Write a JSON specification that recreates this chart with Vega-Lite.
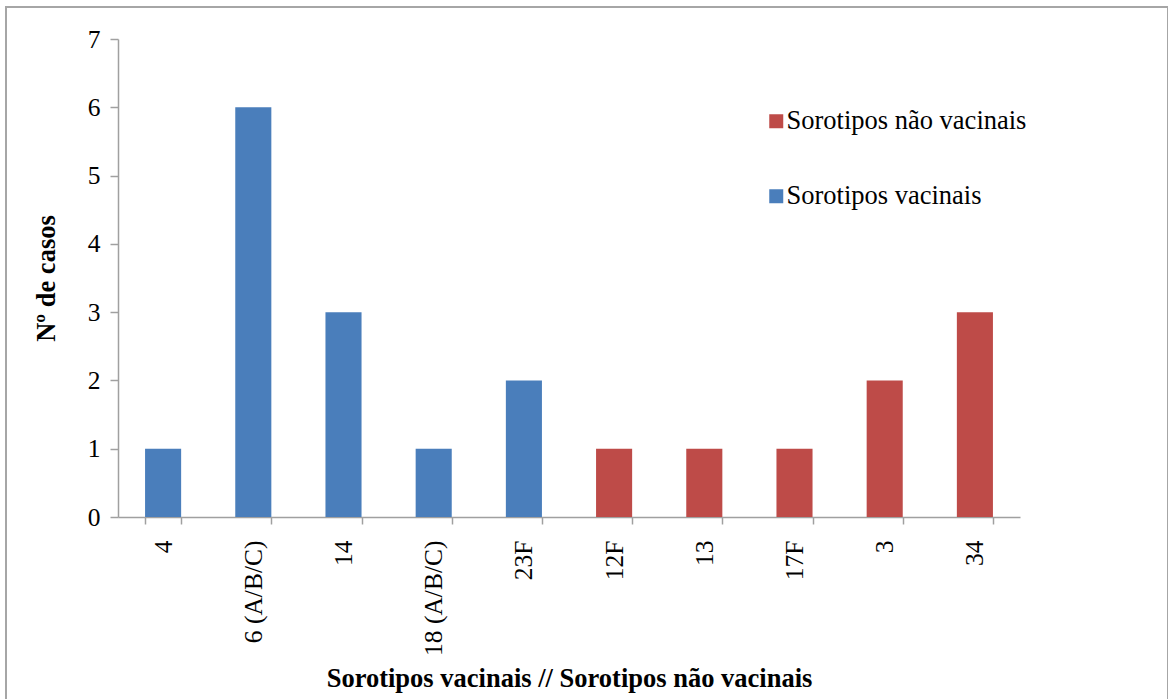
{
  "$schema": "https://vega.github.io/schema/vega-lite/v6.json",
  "width": 1162,
  "height": 700,
  "padding": {"left": 6, "top": 7, "right": 0, "bottom": 0},
  "autosize": {"type": "none"},
  "background": "white",
  "config": {
    "view": {"stroke": "#a6a6a6", "strokeWidth": 2},
    "font": "'Liberation Serif', 'DejaVu Serif', serif"
  },
  "data": {
    "values": [
      {"sorotipo": "4", "casos": 1, "grupo": "Sorotipos vacinais"},
      {"sorotipo": "6 (A/B/C)", "casos": 6, "grupo": "Sorotipos vacinais"},
      {"sorotipo": "14", "casos": 3, "grupo": "Sorotipos vacinais"},
      {"sorotipo": "18 (A/B/C)", "casos": 1, "grupo": "Sorotipos vacinais"},
      {"sorotipo": "23F", "casos": 2, "grupo": "Sorotipos vacinais"},
      {"sorotipo": "12F", "casos": 1, "grupo": "Sorotipos não vacinais"},
      {"sorotipo": "13", "casos": 1, "grupo": "Sorotipos não vacinais"},
      {"sorotipo": "17F", "casos": 1, "grupo": "Sorotipos não vacinais"},
      {"sorotipo": "3", "casos": 2, "grupo": "Sorotipos não vacinais"},
      {"sorotipo": "34", "casos": 3, "grupo": "Sorotipos não vacinais"}
    ]
  },
  "mark": {"type": "bar"},
  "encoding": {
    "x": {
      "field": "sorotipo",
      "type": "nominal",
      "sort": null,
      "scale": {"range": [112, 1014], "paddingInner": 0.6, "paddingOuter": 0.3},
      "axis": {
        "title": "Sorotipos vacinais // Sorotipos não vacinais",
        "titleFont": "'Liberation Serif', 'DejaVu Serif', serif",
        "titleFontSize": 26.5,
        "titleFontWeight": "bold",
        "titleColor": "#000000",
        "titlePadding": 10,
        "offset": -190,
        "labelAngle": 270,
        "labelFont": "'Liberation Serif', 'DejaVu Serif', serif",
        "labelFontSize": 25.5,
        "labelColor": "#000000",
        "labelPadding": 16,
        "labelLimit": 0,
        "tickBand": "extent",
        "tickOffset": -27,
        "tickSize": 7,
        "tickColor": "#a0a0a0",
        "domainColor": "#a0a0a0",
        "domainWidth": 1.5,
        "tickWidth": 1.5,
        "grid": false
      }
    },
    "y": {
      "field": "casos",
      "type": "quantitative",
      "scale": {"domain": [0, 7], "range": [510, 32], "nice": false},
      "axis": {
        "title": "Nº de casos",
        "titleFont": "'Liberation Serif', 'DejaVu Serif', serif",
        "titleFontSize": 26.5,
        "titleFontWeight": "bold",
        "titleColor": "#000000",
        "titlePadding": 27,
        "offset": -112,
        "values": [0, 1, 2, 3, 4, 5, 6, 7],
        "labelFont": "'Liberation Serif', 'DejaVu Serif', serif",
        "labelFontSize": 25.5,
        "labelColor": "#000000",
        "labelPadding": 10,
        "tickSize": 8,
        "tickColor": "#a0a0a0",
        "domainColor": "#a0a0a0",
        "domainWidth": 1.5,
        "tickWidth": 1.5,
        "grid": false
      }
    },
    "color": {
      "field": "grupo",
      "type": "nominal",
      "scale": {
        "domain": ["Sorotipos não vacinais", "Sorotipos vacinais"],
        "range": ["#BE4B48", "#4A7EBB"]
      },
      "legend": {
        "title": null,
        "orient": "none",
        "legendX": 757,
        "legendY": 101,
        "padding": 0,
        "symbolType": "square",
        "symbolSize": 196,
        "symbolStrokeWidth": 0,
        "labelFont": "'Liberation Serif', 'DejaVu Serif', serif",
        "labelFontSize": 26.5,
        "labelColor": "#000000",
        "labelOffset": -3,
        "labelLimit": 0,
        "rowPadding": 48
      }
    }
  }
}
